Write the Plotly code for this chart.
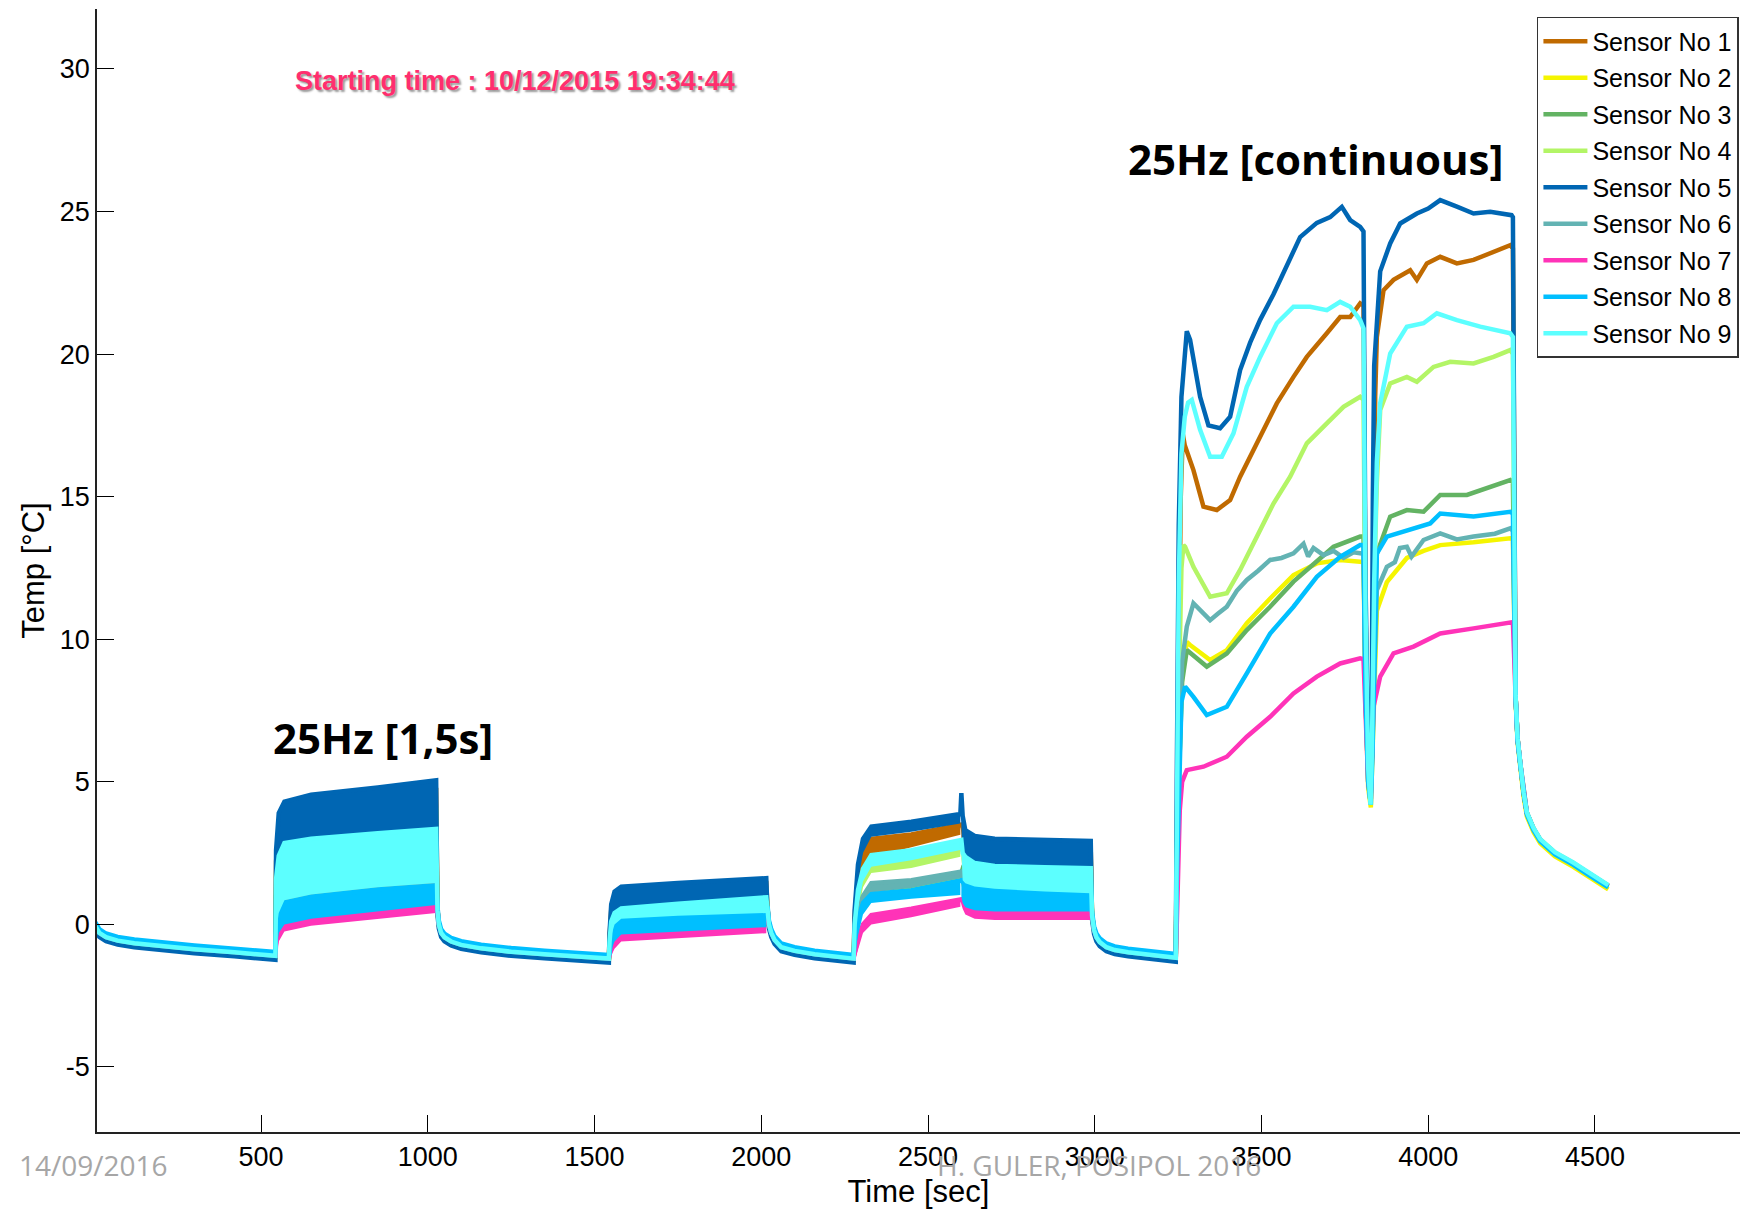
import plotly.graph_objects as go

# ---------------------------------------------------------------- sensors
SENSORS = ["Sensor No 1", "Sensor No 2", "Sensor No 3", "Sensor No 4", "Sensor No 5",
           "Sensor No 6", "Sensor No 7", "Sensor No 8", "Sensor No 9"]
COLORS = ["#C06A00", "#F5F500", "#63B363", "#B3F566", "#0066B3",
          "#63B3B3", "#FF33B8", "#00BFFF", "#5CFFFF"]

# axis ticks
X_TICKS = [500, 1000, 1500, 2000, 2500, 3000, 3500, 4000, 4500]
Y_TICKS = [-5, 0, 5, 10, 15, 20, 25, 30]
Y_TICK_LABELS = ["-5", "0", "5", "10", "15", "20", "25", "30"]

# ---------------------------------------------------------------- cooling stretches (time [s], temp [°C])
COOL_A_T = [0, 5, 15, 35, 70, 120, 200, 300, 420, 543]
COOL_A_V = [0.0, -0.1, -0.3, -0.45, -0.57, -0.66, -0.76, -0.87, -0.98, -1.1]
COOL_B_T = [1029, 1033, 1040, 1050, 1070, 1100, 1160, 1250, 1350, 1450, 1543]
COOL_B_V = [0.5, 0.0, -0.3, -0.45, -0.6, -0.72, -0.84, -0.96, -1.05, -1.14, -1.2]
COOL_C_T = [2019, 2023, 2030, 2040, 2060, 2100, 2160, 2220, 2277]
COOL_C_V = [0.5, 0.0, -0.3, -0.55, -0.8, -0.93, -1.05, -1.13, -1.2]
COOL_D_T = [2992, 2998, 3005, 3015, 3035, 3060, 3100, 3170, 3243]
COOL_D_V = [0.3, -0.2, -0.45, -0.62, -0.8, -0.9, -0.98, -1.08, -1.17]
COOL_OFFSET = [0.03, -0.04, 0.0, 0.05, -0.14, 0.0, 0.02, 0.13, 0.0]

# final cool-down after the beam is stopped
TAIL_T = [4262, 4268, 4276, 4286, 4296, 4316, 4336, 4380, 4435, 4485, 4540]
TAIL_V = [8.0, 6.5, 5.65, 4.6, 3.9, 3.35, 2.96, 2.5, 2.14, 1.75, 1.35]
TAIL_OFFSET = [0.0, -0.12, 0.0, 0.02, 0.0, 0.0, 0.0, -0.05, 0.03]

# ---------------------------------------------------------------- pulsed runs: upper / lower envelope per sensor
P1_T = [545, 553, 570, 650, 850, 1025]
P1_HI = [[2.2, 3.5, 3.9, 4.2, 4.45, 4.7],
         [1.2, 2.1, 2.5, 2.7, 2.9, 3.05],
         [1.0, 1.9, 2.3, 2.5, 2.7, 2.85],
         [1.8, 3.0, 3.4, 3.6, 3.8, 4.0],
         [2.6, 3.9, 4.3, 4.55, 4.8, 5.05],
         [-0.3, 0.4, 0.85, 1.05, 1.3, 1.45],
         [-0.7, -0.1, 0.2, 0.4, 0.65, 0.85],
         [-0.38, 0.32, 0.77, 0.97, 1.22, 1.37],
         [1.6, 2.4, 2.85, 3.0, 3.2, 3.35]]
P1_LO = [[0.3, 1.5, 2.0, 2.2, 2.4, 2.6],
         [-0.2, 0.6, 1.0, 1.2, 1.45, 1.6],
         [-0.2, 0.5, 0.95, 1.15, 1.4, 1.55],
         [0.0, 1.0, 1.5, 1.7, 1.9, 2.05],
         [0.5, 1.8, 2.3, 2.5, 2.7, 2.9],
         [-0.9, -0.2, 0.3, 0.5, 0.7, 0.9],
         [-1.2, -0.6, -0.25, -0.05, 0.2, 0.4],
         [-0.9, -0.3, 0.0, 0.2, 0.45, 0.68],
         [-0.3, 0.4, 0.85, 1.05, 1.3, 1.45]]

P2_T = [1545, 1550, 1560, 1580, 1750, 2015]
P2_HI = [[-0.45, 0.5, 0.95, 1.15, 1.28, 1.45],
         [-0.8, -0.1, 0.25, 0.45, 0.6, 0.8],
         [-0.8, -0.1, 0.25, 0.42, 0.58, 0.78],
         [-0.6, 0.3, 0.7, 0.9, 1.0, 1.2],
         [-0.3, 0.7, 1.15, 1.32, 1.45, 1.62],
         [-1.0, -0.4, 0.0, 0.2, 0.3, 0.4],
         [-1.1, -0.7, -0.35, -0.1, 0.0, 0.15],
         [-1.04, -0.44, -0.04, 0.16, 0.26, 0.36],
         [-0.6, 0.1, 0.4, 0.56, 0.72, 0.95]]
P2_LO = [[-1.0, -0.3, 0.1, 0.3, 0.4, 0.55],
         [-1.0, -0.35, 0.05, 0.25, 0.35, 0.45],
         [-1.0, -0.35, 0.05, 0.25, 0.35, 0.45],
         [-1.0, -0.3, 0.1, 0.3, 0.4, 0.55],
         [-0.9, 0.0, 0.3, 0.45, 0.6, 0.8],
         [-1.15, -0.8, -0.5, -0.3, -0.2, -0.05],
         [-1.3, -1.1, -0.85, -0.6, -0.5, -0.31],
         [-1.2, -0.9, -0.6, -0.35, -0.25, -0.1],
         [-1.0, -0.4, 0.0, 0.2, 0.3, 0.4]]

P3_T = [2280, 2290, 2305, 2330, 2450, 2597]
P3_HI = [[0.3, 1.7, 2.6, 3.0, 3.15, 3.5],
         [-0.5, 0.3, 0.85, 1.12, 1.28, 1.6],
         [-0.5, 0.4, 0.95, 1.38, 1.5, 1.8],
         [-0.1, 1.0, 1.7, 2.15, 2.3, 2.64],
         [0.5, 2.1, 3.0, 3.43, 3.6, 3.87],
         [-0.4, 0.5, 1.0, 1.45, 1.55, 1.85],
         [-1.0, -0.5, 0.0, 0.33, 0.55, 0.88],
         [-0.6, 0.2, 0.75, 1.06, 1.2, 1.53],
         [0.0, 1.2, 1.95, 2.43, 2.6, 2.96]]
P3_LO = [[-0.3, 1.2, 2.0, 2.35, 2.72, 3.14],
         [-1.0, -0.2, 0.55, 0.95, 1.1, 1.45],
         [-1.0, -0.1, 0.65, 1.15, 1.3, 1.66],
         [-0.7, 0.4, 1.3, 1.8, 1.98, 2.37],
         [-0.2, 1.5, 2.5, 3.07, 3.25, 3.54],
         [-0.9, 0.0, 0.7, 1.12, 1.28, 1.62],
         [-1.3, -0.9, -0.3, 0.0, 0.25, 0.62],
         [-1.1, -0.4, 0.35, 0.75, 0.9, 1.03],
         [-0.6, 0.6, 1.5, 2.02, 2.25, 2.61]]

P4_T = [2600, 2604, 2612, 2640, 2700, 2850, 2988]
P4_HI = [[3.5, 3.4, 3.0, 2.8, 2.7, 2.65, 2.62],
         [1.6, 1.9, 1.8, 1.7, 1.6, 1.55, 1.5],
         [1.8, 1.95, 1.85, 1.75, 1.65, 1.6, 1.55],
         [2.6, 2.9, 2.6, 2.45, 2.35, 2.3, 2.28],
         [4.6, 3.8, 3.3, 3.1, 3.0, 2.95, 2.93],
         [1.85, 1.55, 1.44, 1.33, 1.25, 1.15, 1.09],
         [0.88, 0.8, 0.7, 0.6, 0.55, 0.55, 0.55],
         [1.55, 1.48, 1.38, 1.28, 1.2, 1.1, 1.04],
         [2.96, 2.5, 2.37, 2.15, 2.05, 2.0, 1.97]]
P4_LO = [[3.1, 2.2, 2.0, 1.9, 1.8, 1.75, 1.7],
         [1.4, 1.2, 1.1, 1.0, 0.95, 0.9, 0.9],
         [1.6, 1.2, 1.1, 1.0, 0.95, 0.9, 0.9],
         [2.3, 1.9, 1.75, 1.6, 1.5, 1.45, 1.4],
         [3.5, 2.0, 1.9, 1.8, 1.7, 1.65, 1.6],
         [1.6, 1.0, 0.9, 0.8, 0.75, 0.7, 0.7],
         [0.7, 0.55, 0.35, 0.2, 0.15, 0.15, 0.15],
         [1.0, 0.75, 0.6, 0.5, 0.45, 0.45, 0.45],
         [2.6, 1.55, 1.44, 1.33, 1.25, 1.15, 1.09]]

# ---------------------------------------------------------------- continuous run (time [s], temp [°C])
S1_CONT = [(3246, 3.0), (3252, 10.0), (3258, 15.0), (3264, 17.2), (3270, 16.8), (3296, 15.93),
           (3326, 14.65), (3366, 14.53), (3406, 14.88), (3436, 15.7), (3466, 16.4), (3496, 17.1),
           (3546, 18.27), (3596, 19.2), (3636, 19.9), (3696, 20.73), (3736, 21.3), (3766, 21.3),
           (3796, 21.78), (3806, 21.7), (3812, 11.0), (3820, 5.5), (3827, 4.3), (3831, 7.0),
           (3836, 14.0), (3841, 18.5), (3846, 20.6), (3866, 22.24), (3896, 22.6), (3946, 22.94),
           (3966, 22.6), (3996, 23.18), (4036, 23.41), (4086, 23.18), (4136, 23.3), (4186, 23.53),
           (4246, 23.82), (4254, 23.7)]
S2_CONT = [(3246, 1.5), (3252, 5.0), (3262, 8.8), (3276, 9.9), (3286, 9.8), (3346, 9.27),
           (3396, 9.62), (3456, 10.56), (3526, 11.43), (3596, 12.25), (3666, 12.66), (3736, 12.78),
           (3796, 12.72), (3806, 12.7), (3812, 8.0), (3820, 4.8), (3828, 4.1), (3833, 6.0),
           (3840, 9.0), (3846, 11.0), (3876, 12.0), (3936, 12.85), (3986, 13.1), (4036, 13.3),
           (4136, 13.4), (4246, 13.54), (4254, 13.5)]
S3_CONT = [(3246, 1.5), (3252, 5.0), (3262, 8.5), (3276, 9.62), (3336, 9.04), (3396, 9.5),
           (3456, 10.32), (3526, 11.14), (3596, 12.02), (3646, 12.54), (3716, 13.24), (3796, 13.6),
           (3806, 13.6), (3812, 8.0), (3820, 5.0), (3827, 4.3), (3832, 6.0), (3838, 10.5),
           (3846, 13.0), (3886, 14.3), (3936, 14.53), (3986, 14.47), (4036, 15.06), (4116, 15.06),
           (4186, 15.35), (4246, 15.58), (4254, 15.5)]
S4_CONT = [(3246, 2.0), (3252, 8.0), (3260, 12.5), (3266, 13.3), (3271, 13.24), (3296, 12.54),
           (3346, 11.49), (3396, 11.61), (3436, 12.43), (3486, 13.6), (3536, 14.76), (3586, 15.7),
           (3636, 16.87), (3696, 17.57), (3746, 18.15), (3796, 18.5), (3806, 18.4), (3812, 10.0),
           (3820, 5.5), (3827, 4.3), (3831, 6.0), (3838, 12.0), (3846, 15.5), (3856, 18.04),
           (3886, 18.97), (3936, 19.2), (3966, 19.03), (4016, 19.55), (4066, 19.73), (4136, 19.67),
           (4196, 19.9), (4246, 20.14), (4254, 20.0)]
S5_CONT = [(3246, 5.0), (3252, 14.0), (3260, 18.5), (3270, 20.3), (3276, 20.8), (3286, 20.5),
           (3296, 19.9), (3316, 18.5), (3341, 17.5), (3376, 17.4), (3406, 17.8), (3436, 19.44),
           (3466, 20.4), (3496, 21.2), (3536, 22.1), (3576, 23.06), (3616, 24.1), (3666, 24.6),
           (3706, 24.8), (3741, 25.16), (3766, 24.7), (3796, 24.46), (3806, 24.3), (3812, 12.0),
           (3820, 6.0), (3827, 4.3), (3831, 8.0), (3834, 15.0), (3838, 19.6), (3856, 22.9),
           (3886, 23.88), (3916, 24.58), (3966, 24.93), (4000, 25.1), (4036, 25.4), (4086, 25.17),
           (4136, 24.93), (4186, 24.99), (4250, 24.87), (4254, 24.8)]
S6_CONT = [(3246, 2.0), (3252, 6.0), (3262, 9.2), (3276, 10.44), (3296, 11.26), (3320, 11.0),
           (3346, 10.67), (3370, 10.9), (3396, 11.14), (3426, 11.7), (3456, 12.08), (3490, 12.4),
           (3526, 12.78), (3560, 12.85), (3596, 13.01), (3626, 13.35), (3640, 12.9), (3656, 13.2),
           (3686, 12.95), (3716, 13.1), (3746, 12.85), (3776, 13.05), (3806, 13.0), (3812, 8.0),
           (3820, 5.0), (3827, 4.3), (3832, 6.0), (3838, 9.0), (3846, 11.72), (3876, 12.54),
           (3900, 12.7), (3915, 13.2), (3936, 13.24), (3950, 12.9), (3986, 13.48), (4036, 13.71),
           (4086, 13.5), (4136, 13.6), (4200, 13.7), (4246, 13.89), (4254, 13.8)]
S7_CONT = [(3246, 0.0), (3250, 2.0), (3255, 4.0), (3262, 5.0), (3276, 5.41), (3326, 5.53),
           (3396, 5.88), (3456, 6.58), (3526, 7.28), (3596, 8.1), (3666, 8.69), (3736, 9.15),
           (3796, 9.33), (3806, 9.3), (3812, 7.0), (3820, 5.0), (3828, 4.4), (3832, 6.0),
           (3836, 7.63), (3856, 8.69), (3896, 9.5), (3956, 9.74), (4036, 10.2), (4136, 10.38),
           (4246, 10.61), (4254, 10.6)]
S8_CONT = [(3246, 1.5), (3252, 5.0), (3260, 7.8), (3271, 8.34), (3296, 7.98), (3336, 7.34),
           (3396, 7.63), (3456, 8.8), (3526, 10.2), (3596, 11.14), (3666, 12.19), (3736, 12.89),
           (3796, 13.3), (3806, 13.3), (3812, 8.0), (3820, 5.0), (3828, 4.2), (3833, 6.0),
           (3838, 9.0), (3846, 13.0), (3876, 13.6), (3936, 13.83), (4006, 14.06), (4036, 14.41),
           (4136, 14.3), (4246, 14.47), (4254, 14.4)]
S9_CONT = [(3246, 3.0), (3252, 12.0), (3260, 16.5), (3270, 17.8), (3280, 18.3), (3291, 18.39),
           (3316, 17.34), (3346, 16.4), (3381, 16.4), (3416, 17.22), (3456, 18.85), (3496, 19.9),
           (3546, 21.08), (3596, 21.66), (3646, 21.66), (3696, 21.54), (3736, 21.83), (3766, 21.66),
           (3796, 21.19), (3806, 20.9), (3812, 11.0), (3820, 5.5), (3827, 4.2), (3831, 6.0),
           (3838, 12.0), (3846, 16.2), (3856, 18.27), (3886, 20.02), (3936, 20.96), (3986, 21.08),
           (4026, 21.43), (4086, 21.19), (4156, 20.96), (4246, 20.73), (4254, 20.6)]
CONTINUOUS = [S1_CONT, S2_CONT, S3_CONT, S4_CONT, S5_CONT, S6_CONT, S7_CONT, S8_CONT, S9_CONT]

PULSED = [(P1_T, P1_HI, P1_LO), (P2_T, P2_HI, P2_LO), (P3_T, P3_HI, P3_LO), (P4_T, P4_HI, P4_LO)]


def sensor_line(k):
    """Full temperature history of sensor k (pulsed runs follow the upper envelope)."""
    xs, ys = [], []

    def add(ts, vs, off=0.0):
        xs.extend(ts)
        ys.extend(v + off for v in vs)

    add(COOL_A_T, COOL_A_V, COOL_OFFSET[k])
    add(P1_T, P1_HI[k])
    add(COOL_B_T, COOL_B_V, COOL_OFFSET[k])
    add(P2_T, P2_HI[k])
    add(COOL_C_T, COOL_C_V, COOL_OFFSET[k])
    add(P3_T, P3_HI[k])
    add(P4_T, P4_HI[k])
    add(COOL_D_T, COOL_D_V, COOL_OFFSET[k])
    ts = [p[0] for p in CONTINUOUS[k]]
    vs = [p[1] for p in CONTINUOUS[k]]
    add(ts, vs)
    add(TAIL_T, TAIL_V, TAIL_OFFSET[k])
    return xs, ys


def sensor_bands(k):
    """Closed polygons spanning the fast oscillation of sensor k during pulsed runs."""
    xs, ys = [], []
    for ts, hi, lo in PULSED:
        xs += list(ts) + list(ts[::-1]) + [None]
        ys += list(hi[k]) + list(lo[k][::-1]) + [None]
    return xs, ys


fig = go.Figure()
for k, name in enumerate(SENSORS):
    bx, by = sensor_bands(k)
    fig.add_trace(go.Scatter(x=bx, y=by, mode="lines", fill="toself",
                             fillcolor=COLORS[k], line=dict(width=0, color=COLORS[k]),
                             legendgroup=name, showlegend=False, hoverinfo="skip"))
    lx, ly = sensor_line(k)
    fig.add_trace(go.Scatter(x=lx, y=ly, mode="lines", name=name, legendgroup=name,
                             line=dict(color=COLORS[k], width=4.5)))

BASE_FONT = "Liberation Sans, Arial, Helvetica, sans-serif"
LABEL_FONT = "Open Sans, Lato, sans-serif"

fig.add_annotation(x=1260, y=29.57, xref="x", yref="y", showarrow=False,
                   text="Starting time : 10/12/2015 19:34:44",
                   font=dict(family=BASE_FONT, size=27, color="#FF2E6E", weight="bold",
                             shadow="2px 2px 2px #9a9a9a"))
fig.add_annotation(x=865, y=6.57, xref="x", yref="y", showarrow=False,
                   text="25Hz [1,5s]",
                   font=dict(family=LABEL_FONT, size=42, color="black", weight="bold"))
fig.add_annotation(x=3661, y=26.87, xref="x", yref="y", showarrow=False,
                   text="25Hz [continuous]",
                   font=dict(family=LABEL_FONT, size=42, color="black", weight="bold"))
fig.add_annotation(x=-0.0024, y=-0.0294, xref="paper", yref="paper", showarrow=False,
                   xanchor="center", yanchor="middle", text="14/09/2016",
                   font=dict(family=LABEL_FONT, size=28, color="#A6A6A6"))
fig.add_annotation(x=0.6100, y=-0.0294, xref="paper", yref="paper", showarrow=False,
                   xanchor="center", yanchor="middle", text="H. GULER, POSIPOL 2016",
                   font=dict(family=LABEL_FONT, size=28, color="#A6A6A6"))

fig.update_layout(
    width=1740, height=1209,
    margin=dict(l=97, r=0, t=9, b=77, pad=0),
    paper_bgcolor="white", plot_bgcolor="white",
    font=dict(family=BASE_FONT, size=26, color="black"),
    legend=dict(x=0.8764, y=0.9929, xanchor="left", yanchor="top",
                bgcolor="white", bordercolor="#333333", borderwidth=1.5,
                font=dict(family=BASE_FONT, size=25, color="black"),
                traceorder="grouped", tracegroupgap=1, itemwidth=44),
)
fig.update_xaxes(range=[8, 4935], tickvals=X_TICKS, ticks="inside", ticklen=17,
                 tickwidth=1, tickcolor="black", showline=True, linecolor="#222222",
                 linewidth=2, showgrid=False, zeroline=False, mirror=False,
                 tickfont=dict(size=27),
                 title=dict(text="Time [sec]", standoff=16))
fig.update_yaxes(range=[-7.28, 32.1], tickvals=Y_TICKS, ticktext=Y_TICK_LABELS,
                 ticks="inside", ticklen=17, tickwidth=1, tickcolor="black",
                 showline=True, linecolor="#222222", linewidth=1.5, showgrid=False,
                 zeroline=False, mirror=False, tickfont=dict(size=27),
                 title=dict(text="Temp [°C]", standoff=6))

fig.write_html("out.html")
